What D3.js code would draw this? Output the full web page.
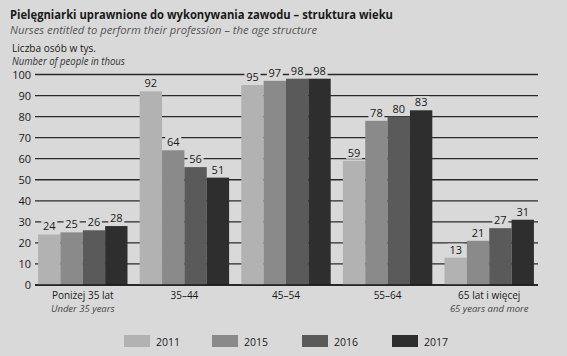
<!DOCTYPE html>
<html><head><meta charset="utf-8">
<script src="https://cdn.jsdelivr.net/npm/d3@7"></script>
<style>body{margin:0;background:#d9d9d9}svg{display:block}text{font-family:"Open Sans",sans-serif;fill:#1a1a1a}</style>
</head><body><svg id="c" width="567" height="356"></svg>
<script>
const categories = ["Poniżej 35 lat","35–44","45–54","55–64","65 lat i więcej"];
const categoriesEn = ["Under 35 years","","","","65 years and more"];
const years = ["2011","2015","2016","2017"];
const v2011 = [24,92,95,59,13];
const v2015 = [25,64,97,78,21];
const v2016 = [26,56,98,80,27];
const v2017 = [28,51,98,83,31];
const yTicks = [0,10,20,30,40,50,60,70,80,90,100];
const colors = ["#b2b2b2","#8a8a8a","#5a5a5a","#2e2e2e"];
const series = [v2011,v2015,v2016,v2017];

const svg = d3.select("#c");
svg.append("rect").attr("width",567).attr("height",356).attr("fill","#d9d9d9");
const L=35,R=538,T=74.5,B=285;
const y = d3.scaleLinear().domain([0,100]).range([B,T]);
const x0 = d3.scaleBand().domain(categories).range([L-2,R+1]).paddingInner(0.12).paddingOuter(0.05);
const x1 = d3.scaleBand().domain(years).range([0,x0.bandwidth()]);

// titles
svg.append("text").attr("x",10).attr("y",19).attr("font-size",12.5).attr("font-weight","bold").attr("textLength",383).attr("lengthAdjust","spacingAndGlyphs").text("Pielęgniarki uprawnione do wykonywania zawodu – struktura wieku");
svg.append("text").attr("x",10).attr("y",34).attr("font-size",11.5).attr("font-style","italic").style("fill","#555").attr("textLength",307).attr("lengthAdjust","spacingAndGlyphs").text("Nurses entitled to perform their profession – the age structure");
svg.append("text").attr("x",12).attr("y",52).attr("font-size",10.5).attr("textLength",84).attr("lengthAdjust","spacingAndGlyphs").text("Liczba osób w tys.");
svg.append("text").attr("x",12).attr("y",64.5).attr("font-size",10).attr("font-style","italic").style("fill","#333").attr("textLength",113).attr("lengthAdjust","spacingAndGlyphs").text("Number of people in thous");

// grid
const g = svg.append("g");
g.selectAll("line.grid").data(yTicks).join("line")
  .attr("x1",L).attr("x2",R).attr("y1",d=>y(d)).attr("y2",d=>y(d))
  .attr("stroke","#2a2a2a").attr("stroke-width",d=>d===0?1.6:1.3);
g.selectAll("text.yt").data(yTicks).join("text")
  .attr("x",31).attr("y",d=>y(d)+4).attr("text-anchor","end").attr("font-size",11).text(d=>d);

// bars
const groups = svg.selectAll("g.grp").data(categories).join("g").attr("transform",d=>`translate(${x0(d)},0)`);
groups.each(function(c,i){
  const gg=d3.select(this);
  years.forEach((yr,j)=>{
    const v=series[j][i];
    gg.append("rect").attr("x",x1(yr)).attr("width",x1.bandwidth()).attr("y",y(v)).attr("height",y(0)-y(v)).attr("fill",colors[j]);
  });
  years.forEach((yr,j)=>{
    const v=series[j][i];
    const cx=x1(yr)+x1.bandwidth()/2;
    gg.append("rect").attr("x",cx-8).attr("y",y(v)-14).attr("width",16).attr("height",12).attr("fill","#d9d9d9");
    gg.append("text").attr("x",cx).attr("y",y(v)-4).attr("text-anchor","middle").attr("font-size",11).text(v);
  });
});
// baseline over bars
svg.append("line").attr("x1",L).attr("x2",R).attr("y1",y(0)).attr("y2",y(0)).attr("stroke","#1a1a1a").attr("stroke-width",1.6);

// category labels
svg.selectAll("text.cat").data(categories).join("text")
  .attr("x",d=>x0(d)+x0.bandwidth()/2).attr("y",298.5).attr("text-anchor","middle").attr("font-size",10).text(d=>d);
svg.selectAll("text.caten").data(categories).join("text")
  .attr("x",d=>x0(d)+x0.bandwidth()/2).attr("y",311.5).attr("text-anchor","middle").attr("font-size",9.5).attr("font-style","italic").style("fill","#444").text((d,i)=>categoriesEn[i]);

// legend
const lx=[124,212,302,392];
const lg = svg.selectAll("g.leg").data(years).join("g").attr("transform",(d,i)=>`translate(${lx[i]},335)`);
lg.append("rect").attr("width",26).attr("height",12).attr("fill",(d,i)=>colors[i]);
lg.append("text").attr("x",32).attr("y",10.5).attr("font-size",10.5).text(d=>d);
</script></body></html>
